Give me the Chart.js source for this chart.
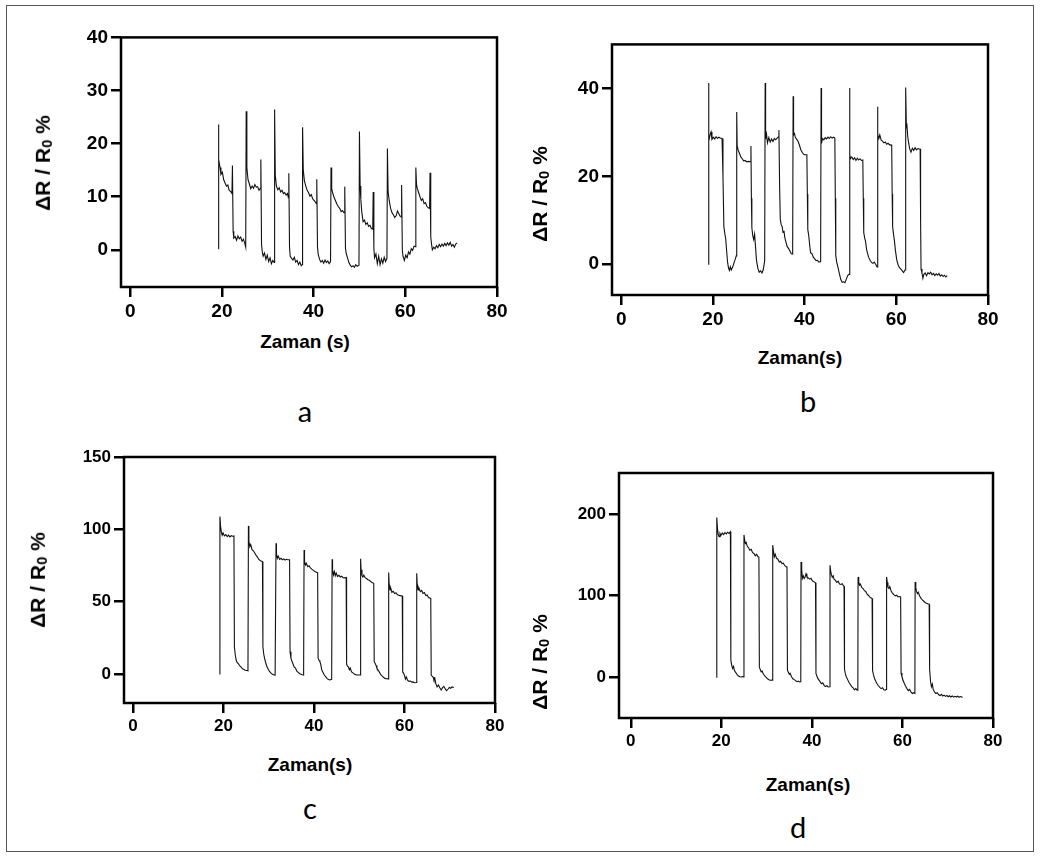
<!DOCTYPE html>
<html>
<head>
<meta charset="utf-8">
<script src="https://cdn.jsdelivr.net/npm/chart.js@4.4.0/dist/chart.umd.min.js"></script>
<style>
  body { margin: 0; background: #fff; width: 1041px; height: 861px; position: relative; overflow: hidden;
         font-family: "Liberation Sans", Arial, sans-serif; }
  .frame { position: absolute; left: 6px; top: 5px; width: 1026px; height: 845px; border: 1px solid #555; }
  canvas { position: absolute; }
  .ytitle, .xtitle, .letter { position: absolute; white-space: nowrap; color: #000; }
  .ytitle { font-weight: bold; font-size: 21px; transform: translate(-50%, -50%) rotate(-90deg); }
  .xtitle { font-weight: bold; font-size: 19px; transform: translate(-50%, -50%); }
  .letter { font-family: Lato, "Open Sans", sans-serif; font-size: 29px; transform: translate(-50%, -50%); }
  sub { font-size: 0.7em; vertical-align: -0.15em; }
</style>
</head>
<body>
<div class="frame"></div>

<canvas id="chartA"></canvas>
<canvas id="chartB"></canvas>
<canvas id="chartC"></canvas>
<canvas id="chartD"></canvas>

<div class="ytitle" style="left:43px;top:163px">ΔR / R<sub>0</sub> %</div>
<div class="ytitle" style="left:540px;top:194px">ΔR / R<sub>0</sub> %</div>
<div class="ytitle" style="left:38px;top:580px">ΔR / R<sub>0</sub> %</div>
<div class="ytitle" style="left:540px;top:662px">ΔR / R<sub>0</sub> %</div>

<div class="xtitle" style="left:305px;top:342px">Zaman (s)</div>
<div class="xtitle" style="left:800px;top:358px">Zaman(s)</div>
<div class="xtitle" style="left:310px;top:765px">Zaman(s)</div>
<div class="xtitle" style="left:808px;top:785px">Zaman(s)</div>

<div class="letter" style="left:305px;top:410px">a</div>
<div class="letter" style="left:808px;top:400px">b</div>
<div class="letter" style="left:310px;top:807px">c</div>
<div class="letter" style="left:798px;top:826px">d</div>

<script>
// time (s) / response (%) pairs
const seriesA = [
  [19.2, 0.2], [19.25, 23.6], [19.35, 17.0], [19.6, 15.5], [19.8, 14.2], [20.1, 14.6], [20.4, 13.2], [20.7, 12.6], [21.0, 12.0], [21.3, 12.2], [21.6, 11.2], [21.9, 11.0], [22.2, 10.6],
  [22.3, 15.9], [22.45, 3.5], [22.6, 2.2], [22.9, 2.5], [23.2, 1.8], [23.5, 2.6], [23.8, 2.1], [24.1, 2.4], [24.4, 1.6], [24.7, 2.0], [25.0, 1.2], [25.2, 0.5],
  [25.3, 26.1], [25.45, 15.5], [25.7, 13.2], [26.0, 12.4], [26.3, 11.5], [26.6, 12.0], [26.9, 11.6], [27.2, 12.3], [27.5, 11.8], [27.8, 11.9], [28.1, 11.2], [28.4, 11.6],
  [28.5, 17.0], [28.65, 1.0], [28.8, -0.3], [29.0, -1.2], [29.3, -0.6], [29.6, -1.8], [29.9, -1.0], [30.2, -2.2], [30.5, -1.5], [30.8, -2.6], [31.1, -2.0], [31.4, -2.4],
  [31.5, 26.4], [31.65, 14.0], [31.9, 12.0], [32.2, 11.3], [32.5, 11.7], [32.8, 10.9], [33.1, 11.2], [33.4, 10.6], [33.7, 10.8], [34.0, 10.3], [34.3, 10.6], [34.5, 9.8],
  [34.6, 14.4], [34.75, 0.5], [34.9, -1.2], [35.2, -1.6], [35.5, -1.9], [35.8, -1.4], [36.1, -2.3], [36.4, -2.0], [36.7, -2.8], [37.0, -2.3], [37.3, -3.0], [37.5, -2.8],
  [37.6, 23.1], [37.75, 15.0], [38.0, 13.0], [38.3, 12.0], [38.6, 11.2], [38.9, 10.8], [39.2, 10.1], [39.5, 10.4], [39.8, 9.6], [40.1, 9.3], [40.4, 9.0], [40.6, 8.7],
  [40.7, 13.3], [40.85, 0.5], [41.0, -0.8], [41.3, -1.8], [41.6, -2.3], [41.9, -2.0], [42.2, -2.5], [42.5, -1.9], [42.8, -2.4], [43.1, -2.1], [43.4, -2.6], [43.7, -2.2],
  [43.8, 15.5], [43.95, 11.5], [44.2, 10.6], [44.5, 9.8], [44.8, 9.2], [45.1, 8.6], [45.4, 8.1], [45.7, 7.8], [46.0, 7.2], [46.3, 7.4], [46.6, 7.0], [46.7, 7.0],
  [46.8, 11.9], [46.95, 0.3], [47.1, -0.6], [47.4, -1.5], [47.7, -2.4], [48.0, -2.9], [48.3, -3.2], [48.6, -3.0], [48.9, -3.3], [49.2, -2.8], [49.5, -3.1], [49.9, -2.9],
  [50.0, 22.3], [50.15, 12.0], [50.3, 9.5], [50.5, 7.2], [50.8, 5.3], [51.1, 5.6], [51.4, 4.8], [51.7, 5.1], [52.0, 4.4], [52.3, 4.6], [52.6, 4.0], [52.9, 3.9],
  [53.0, 10.9], [53.15, 0.2], [53.3, -1.5], [53.6, -0.8], [53.9, -2.6], [54.2, -1.2], [54.5, -2.8], [54.8, -1.7], [55.1, -2.5], [55.4, -1.4], [55.7, -2.2], [56.0, -1.6],
  [56.1, 19.1], [56.25, 11.0], [56.5, 9.2], [56.8, 7.8], [57.1, 7.0], [57.4, 6.6], [57.7, 6.1], [58.0, 6.4], [58.3, 7.3], [58.6, 6.8], [58.9, 6.3], [59.1, 6.2],
  [59.2, 12.2], [59.35, 0.0], [59.5, -1.2], [59.8, -2.0], [60.1, -1.0], [60.4, -1.5], [60.7, -0.4], [61.0, -0.8], [61.3, 0.2], [61.6, -0.1], [61.9, 0.7], [62.2, 0.6],
  [62.3, 15.5], [62.45, 12.3], [62.6, 11.6], [62.9, 10.8], [63.2, 10.0], [63.5, 9.3], [63.8, 9.6], [64.1, 8.7], [64.4, 8.9], [64.7, 8.2], [65.0, 7.9], [65.3, 7.8],
  [65.4, 14.5], [65.55, 2.5], [65.7, 1.2], [65.9, 0.0], [66.2, 0.5], [66.5, 0.2], [66.8, 0.8], [67.1, 0.4], [67.4, 1.0], [67.7, 0.6], [68.0, 1.1], [68.3, 0.7],
  [68.6, 1.2], [68.9, 0.8], [69.2, 1.3], [69.5, 0.9], [69.8, 1.4], [70.1, 0.7], [70.4, 1.0], [70.7, 0.5], [71.0, 1.1], [71.3, 1.3]
];

const seriesB = [
  [19.0, 0], [19.05, 41.2], [19.15, 28.0], [19.4, 29.5], [19.6, 30.1], [19.8, 28.4], [20.1, 28.9], [20.4, 28.5], [20.7, 29.0], [21.0, 28.6], [21.3, 28.9], [21.6, 28.7], [22.0, 28.6],
  [22.2, 20.0], [22.4, 8.5], [22.6, 7.0], [22.8, 5.8], [23.0, 3.0], [23.2, 0.5], [23.4, -0.8], [23.6, -1.4], [23.8, -0.6], [24.0, -1.3], [24.3, -0.7], [24.6, 0.3], [24.9, 1.2], [25.1, 1.9],
  [25.2, 34.6], [25.3, 27.0], [25.5, 26.0], [25.8, 25.2], [26.1, 24.4], [26.4, 24.0], [26.7, 23.5], [27.0, 23.6], [27.4, 23.3], [27.8, 23.4], [28.2, 23.3],
  [28.3, 26.9], [28.4, 15.0], [28.5, 8.3], [28.7, 6.5], [28.9, 5.6], [29.1, 6.8], [29.3, 4.0], [29.5, 1.0], [29.8, -0.9], [30.1, -1.8], [30.4, -1.5], [30.7, -2.0], [31.0, -1.2], [31.3, 0.8],
  [31.4, 41.2], [31.5, 28.5], [31.7, 29.6], [31.9, 27.6], [32.2, 28.8], [32.5, 27.8], [32.8, 28.5], [33.1, 27.9], [33.4, 28.6], [33.7, 28.3], [34.0, 28.7], [34.3, 29.0],
  [34.4, 30.5], [34.55, 18.0], [34.7, 10.2], [34.9, 9.0], [35.1, 8.6], [35.3, 7.2], [35.5, 7.6], [35.7, 6.0], [35.9, 5.2], [36.2, 4.0], [36.5, 3.6], [36.8, 3.0], [37.1, 2.4], [37.4, 2.3],
  [37.5, 38.2], [37.6, 29.4], [37.8, 29.7], [38.0, 28.8], [38.3, 28.4], [38.6, 27.9], [38.9, 27.0], [39.2, 26.0], [39.5, 25.4], [39.8, 25.0], [40.1, 24.9], [40.5, 24.9],
  [40.6, 16.0], [40.7, 7.9], [40.9, 6.5], [41.1, 4.5], [41.3, 2.6], [41.6, 2.4], [41.9, 1.6], [42.2, 1.2], [42.5, 0.8], [42.8, 0.9], [43.1, 0.5], [43.5, 0.6],
  [43.6, 40.1], [43.7, 27.5], [43.9, 28.6], [44.2, 28.3], [44.5, 28.8], [44.8, 28.5], [45.1, 28.9], [45.4, 28.6], [45.7, 29.0], [46.0, 28.7], [46.3, 28.9], [46.6, 28.7],
  [46.7, 15.0], [46.8, 2.0], [47.0, 0.5], [47.3, -0.8], [47.6, -2.2], [47.9, -3.5], [48.2, -4.1], [48.5, -4.0], [48.8, -4.2], [49.1, -3.4], [49.4, -2.6], [49.7, -2.3],
  [49.8, 40.1], [49.9, 25.0], [50.0, 24.0], [50.3, 24.4], [50.6, 23.8], [50.9, 24.2], [51.2, 23.6], [51.5, 24.1], [51.8, 23.7], [52.1, 24.0], [52.4, 23.6], [52.7, 23.7],
  [52.8, 15.0], [52.9, 7.2], [53.1, 6.0], [53.3, 5.2], [53.5, 3.5], [53.7, 2.6], [54.0, 1.5], [54.3, 0.9], [54.6, 0.4], [54.9, 0.2], [55.2, 0.5], [55.5, 0.0], [55.8, -0.6],
  [55.9, 35.8], [56.0, 29.5], [56.2, 28.6], [56.4, 29.4], [56.7, 28.2], [57.0, 28.0], [57.3, 27.6], [57.6, 27.8], [57.9, 27.3], [58.2, 27.5], [58.5, 27.2], [58.8, 27.1], [59.0, 27.1],
  [59.1, 16.0], [59.2, 8.6], [59.4, 6.8], [59.6, 5.3], [59.8, 3.2], [60.1, 1.0], [60.4, -0.2], [60.7, -0.8], [61.0, -1.1], [61.3, -1.5], [61.6, -1.9], [61.9, -1.3], [62.0, -0.8],
  [62.1, 40.2], [62.2, 31.0], [62.3, 32.0], [62.5, 29.0], [62.7, 27.6], [62.9, 26.3], [63.2, 25.5], [63.5, 26.4], [63.8, 25.9], [64.1, 26.5], [64.4, 26.0], [64.7, 26.3], [65.0, 26.2], [65.2, 26.2],
  [65.3, 10.0], [65.4, -1.1], [65.6, -2.0], [65.8, -3.2], [66.0, -2.3], [66.3, -2.0], [66.6, -2.6], [66.9, -1.9], [67.2, -2.2], [67.5, -1.8], [67.8, -2.4], [68.1, -2.1],
  [68.4, -2.6], [68.7, -2.2], [69.0, -2.5], [69.3, -2.1], [69.6, -2.7], [69.9, -2.4], [70.2, -2.8], [70.5, -2.5], [70.8, -2.9], [71.1, -2.6]
];

const seriesC = [
  [19.1, 0], [19.2, 108.8], [19.35, 102], [19.5, 98.5], [19.7, 96.0], [19.9, 97.5], [20.2, 95.5], [20.5, 96.4], [20.8, 95.0], [21.1, 96.0], [21.4, 94.8], [21.7, 95.6], [22.0, 95.2], [22.3, 95.4],
  [22.4, 18.9], [22.6, 13.0], [22.8, 9.5], [23.0, 8.0], [23.3, 7.0], [23.6, 5.6], [23.9, 4.8], [24.2, 3.6], [24.5, 3.2], [24.8, 2.6], [25.1, 2.4], [25.4, 2.2],
  [25.5, 102.4], [25.6, 92], [25.8, 88.0], [26.0, 89.5], [26.3, 86.0], [26.6, 85.2], [26.9, 83.6], [27.2, 82.0], [27.5, 80.8], [27.8, 79.2], [28.1, 78.5], [28.4, 77.9], [28.6, 77.7],
  [28.7, 18.9], [28.9, 13.5], [29.1, 10.5], [29.3, 8.0], [29.6, 5.0], [29.9, 3.2], [30.2, 1.6], [30.5, 0.6], [30.8, -0.2], [31.1, -0.6], [31.4, -0.7], [31.5, -0.7],
  [31.6, 90.4], [31.7, 83], [31.9, 80.0], [32.1, 81.5], [32.4, 79.2], [32.7, 80.0], [33.0, 79.0], [33.3, 79.6], [33.6, 78.7], [33.9, 79.3], [34.2, 79.0], [34.6, 79.0],
  [34.7, 15.5], [34.9, 11.0], [35.1, 9.0], [35.3, 7.5], [35.6, 5.0], [35.9, 4.2], [36.2, 2.0], [36.5, 1.2], [36.8, 0.4], [37.1, -0.2], [37.4, -0.5], [37.7, -0.7],
  [37.8, 85.8], [37.9, 78], [38.1, 75.4], [38.3, 76.5], [38.6, 74.2], [38.9, 74.8], [39.2, 73.3], [39.5, 72.5], [39.8, 71.8], [40.1, 71.0], [40.4, 70.5], [40.8, 70.1],
  [40.9, 11.0], [41.1, 9.5], [41.3, 8.5], [41.5, 6.5], [41.7, 3.0], [42.0, 1.0], [42.3, -0.8], [42.6, -2.0], [42.9, -3.2], [43.2, -3.8], [43.5, -4.1], [43.9, -3.6],
  [44.0, 79.3], [44.1, 72], [44.3, 68.5], [44.5, 70.8], [44.7, 68.0], [44.9, 69.8], [45.2, 67.4], [45.5, 68.2], [45.8, 67.1], [46.1, 67.6], [46.4, 66.6], [46.8, 66.5], [47.1, 66.8],
  [47.2, 6.7], [47.4, 5.5], [47.6, 5.0], [47.8, 3.0], [48.0, 4.2], [48.3, 1.5], [48.6, 0.8], [48.9, 0.0], [49.2, -0.4], [49.5, -0.6], [49.8, -0.7], [50.2, -0.7],
  [50.3, 79.7], [50.4, 72], [50.6, 68.1], [50.8, 67.0], [51.0, 68.4], [51.3, 66.6], [51.6, 66.0], [51.9, 65.2], [52.2, 64.8], [52.5, 64.0], [52.8, 63.2], [53.2, 62.7],
  [53.3, 8.5], [53.5, 7.5], [53.7, 6.0], [53.9, 4.0], [54.2, 2.6], [54.5, 1.0], [54.8, -0.6], [55.1, -1.4], [55.4, -2.4], [55.7, -3.0], [56.0, -3.2], [56.4, -3.3],
  [56.5, 70.1], [56.6, 63], [56.8, 58.1], [57.0, 59.0], [57.2, 56.5], [57.5, 57.2], [57.8, 55.6], [58.1, 56.2], [58.4, 55.0], [58.7, 54.4], [59.0, 54.2], [59.5, 53.9],
  [59.6, 1.4], [59.8, 0.5], [60.0, -1.0], [60.2, -3.5], [60.4, -2.0], [60.7, -4.4], [61.0, -5.0], [61.3, -4.8], [61.6, -5.6], [61.9, -5.4], [62.2, -6.0], [62.6, -5.8],
  [62.7, 69.6], [62.8, 63], [63.0, 58.1], [63.2, 59.5], [63.5, 57.0], [63.8, 57.8], [64.1, 55.7], [64.4, 56.3], [64.7, 54.2], [65.0, 54.6], [65.3, 52.9], [65.8, 52.3],
  [65.9, -0.7], [66.1, -1.5], [66.3, -2.0], [66.5, -4.1], [66.7, -3.0], [66.9, -6.5], [67.2, -8.8], [67.5, -7.6], [67.8, -9.5], [68.1, -11.0], [68.4, -9.4], [68.7, -8.5],
  [69.0, -10.3], [69.3, -11.5], [69.6, -10.5], [69.9, -9.3], [70.2, -9.8], [70.5, -8.9], [70.9, -9.3]
];

const seriesD = [
  [18.9, 0], [19.0, 195.5], [19.15, 182], [19.3, 175], [19.5, 172], [19.7, 176], [19.9, 173.5], [20.2, 176.5], [20.5, 174.5], [20.8, 177], [21.1, 175.5], [21.4, 177.5], [21.7, 176], [22.0, 178],
  [22.1, 20.8], [22.3, 14.5], [22.5, 10.6], [22.7, 13.0], [22.9, 8.0], [23.2, 5.5], [23.5, 3.2], [23.8, 1.5], [24.1, 0.6], [24.4, 0.2], [24.7, 0.8], [24.95, 0.4],
  [25.0, 174.2], [25.15, 168], [25.3, 163.6], [25.5, 165], [25.7, 160.5], [26.0, 158.5], [26.3, 155.5], [26.6, 156.5], [26.9, 152.5], [27.2, 151.5], [27.5, 148.5], [27.8, 150.5], [28.1, 147.5], [28.3, 147.3],
  [28.4, 12.6], [28.6, 9.0], [28.8, 6.5], [29.0, 7.5], [29.3, 3.5], [29.6, 1.5], [29.9, -0.4], [30.2, -2.0], [30.5, -3.2], [30.8, -3.8], [31.1, -3.5], [31.3, -3.7],
  [31.35, 161.6], [31.5, 155], [31.7, 147.3], [31.9, 150.5], [32.2, 145.5], [32.5, 144.5], [32.8, 141], [33.1, 142], [33.4, 139], [33.7, 139.5], [34.0, 136.5], [34.3, 135.5], [34.5, 134.3],
  [34.6, 8.6], [34.8, 6.0], [35.0, 3.5], [35.2, 4.8], [35.5, 0.5], [35.8, -2.0], [36.1, -3.0], [36.4, -4.2], [36.7, -5.5], [37.0, -4.8], [37.3, -5.9], [37.55, -5.7],
  [37.6, 141.1], [37.75, 132], [37.9, 121], [38.1, 124], [38.3, 120.8], [38.5, 122.5], [38.7, 126.5], [38.9, 123], [39.2, 121.5], [39.5, 120], [39.8, 121], [40.1, 118], [40.4, 117], [40.8, 115.5],
  [40.9, 4.5], [41.1, 1.5], [41.3, -1.5], [41.5, -3.0], [41.8, -5.5], [42.1, -8.0], [42.4, -7.0], [42.7, -10.0], [43.0, -11.5], [43.3, -10.5], [43.6, -12.0], [43.95, -11.8],
  [44.0, 137], [44.15, 130], [44.3, 125.5], [44.5, 122.4], [44.7, 124], [44.9, 120], [45.2, 118.5], [45.5, 116], [45.8, 117.5], [46.1, 114], [46.4, 113.5], [46.7, 114.5], [47.0, 111.5], [47.1, 111.4],
  [47.2, 10.0], [47.4, 4.0], [47.6, 0.5], [47.9, -3.0], [48.2, -6.5], [48.5, -9.0], [48.8, -11.5], [49.1, -13.0], [49.4, -15.5], [49.7, -14.0], [50.0, -15.9], [50.15, -15.5],
  [50.2, 122.8], [50.35, 117], [50.5, 112.6], [50.7, 114], [51.0, 110], [51.3, 108.5], [51.6, 106], [51.9, 105], [52.2, 101.5], [52.5, 100], [52.8, 98], [53.1, 97], [53.3, 96.3],
  [53.4, 8.0], [53.6, 3.0], [53.8, -1.0], [54.1, -5.0], [54.4, -8.0], [54.7, -10.5], [55.0, -12.5], [55.3, -14.0], [55.6, -13.0], [55.9, -15.5], [56.2, -15.9], [56.45, -15.0],
  [56.5, 122.8], [56.65, 116], [56.8, 110], [57.0, 108.6], [57.2, 111], [57.5, 105.5], [57.8, 103], [58.1, 101], [58.4, 99.5], [58.7, 100.5], [59.0, 98.5], [59.3, 98.8], [59.6, 98.3],
  [59.7, 5.0], [59.9, 0.5], [60.1, -3.5], [60.4, -7.5], [60.7, -11.0], [61.0, -14.0], [61.3, -16.5], [61.6, -15.0], [61.9, -18.5], [62.2, -20.0], [62.5, -19.0], [62.75, -20.0],
  [62.8, 116.6], [62.95, 110], [63.1, 105], [63.3, 102.4], [63.5, 104], [63.8, 99.5], [64.1, 96.5], [64.4, 94.5], [64.7, 93], [65.0, 91.5], [65.3, 90.5], [65.6, 89.8], [65.9, 89.4],
  [66.0, 10.0], [66.2, -5.0], [66.4, -11.8], [66.6, -8.5], [66.8, -15.0], [67.1, -18.5], [67.4, -20.0], [67.7, -19.0], [68.0, -21.5], [68.3, -22.5], [68.6, -21.0], [68.9, -23.0],
  [69.2, -22.0], [69.5, -23.5], [69.8, -22.5], [70.1, -24.0], [70.4, -22.8], [70.7, -24.2], [71.0, -23.0], [71.3, -24.5], [71.6, -23.5], [71.9, -24.3], [72.2, -23.2], [72.5, -24.6], [72.8, -23.8], [73.3, -24.5]
];

const timeTicks = [0, 20, 40, 60, 80];
const yTicksA = [0, 10, 20, 30, 40];
const yTicksB = [0, 20, 40];
const yTicksC = [0, 50, 100, 150];
const yTicksD = [0, 100, 200];

// padding around plot box inside each canvas
const PAD_L = 90, PAD_T = 14, PAD_R = 16, PAD_B = 40;

// draws the closed box round the plot area
const boxPlugin = {
  id: 'plotBox',
  afterDraw(chart) {
    const a = chart.chartArea;
    const ctx = chart.ctx;
    ctx.save();
    ctx.strokeStyle = '#000';
    ctx.lineWidth = 2.5;
    ctx.strokeRect(a.left, a.top, a.right - a.left, a.bottom - a.top);
    ctx.restore();
  }
};

function makePanel(id, box, xRange, yRange, yTicks, series, fontSize) {
  const canvas = document.getElementById(id);
  const w = box.right - box.left + PAD_L + PAD_R;
  const h = box.bottom - box.top + PAD_T + PAD_B;
  canvas.width = w;
  canvas.height = h;
  canvas.style.width = w + 'px';
  canvas.style.height = h + 'px';
  canvas.style.left = (box.left - PAD_L) + 'px';
  canvas.style.top = (box.top - PAD_T) + 'px';

  const tickFont = { family: '"Liberation Sans", Arial, sans-serif', size: fontSize, weight: 'bold' };
  const grid = { drawOnChartArea: false, drawTicks: true, tickLength: 10, tickWidth: 2.5, tickColor: '#000', color: '#000', lineWidth: 2.5 };

  return new Chart(canvas.getContext('2d'), {
    type: 'line',
    data: {
      datasets: [{
        data: series.map(p => ({ x: p[0], y: p[1] })),
        borderColor: '#111',
        borderWidth: 1.1,
        pointRadius: 0,
        tension: 0,
        fill: false
      }]
    },
    options: {
      responsive: false,
      animation: false,
      devicePixelRatio: 1,
      layout: { padding: { left: 0, top: PAD_T, right: PAD_R, bottom: 0 }, autoPadding: false },
      plugins: { legend: { display: false }, tooltip: { enabled: false } },
      scales: {
        x: {
          type: 'linear',
          min: xRange[0],
          max: xRange[1],
          afterBuildTicks: s => { s.ticks = timeTicks.map(v => ({ value: v })); },
          afterFit: s => { s.height = PAD_B; },
          grid: grid,
          border: { display: false },
          ticks: { color: '#000', font: tickFont, padding: 3, maxRotation: 0, autoSkip: false }
        },
        y: {
          type: 'linear',
          min: yRange[0],
          max: yRange[1],
          afterBuildTicks: s => { s.ticks = yTicks.map(v => ({ value: v })); },
          afterFit: s => { s.width = PAD_L; },
          grid: grid,
          border: { display: false },
          ticks: { color: '#000', font: tickFont, padding: 3, autoSkip: false }
        }
      }
    },
    plugins: [boxPlugin]
  });
}

makePanel('chartA', { left: 121, top: 37, right: 497, bottom: 287 }, [-2, 80], [-7, 40], yTicksA, seriesA, 19);
makePanel('chartB', { left: 612, top: 44, right: 988, bottom: 295 }, [-2, 80], [-7, 50], yTicksB, seriesB, 19);
makePanel('chartC', { left: 124, top: 457, right: 495, bottom: 703 }, [-2, 80], [-20, 150], yTicksC, seriesC, 17);
makePanel('chartD', { left: 619, top: 473, right: 993, bottom: 718 }, [-2.6, 80], [-50, 250], yTicksD, seriesD, 17);
</script>
</body>
</html>
